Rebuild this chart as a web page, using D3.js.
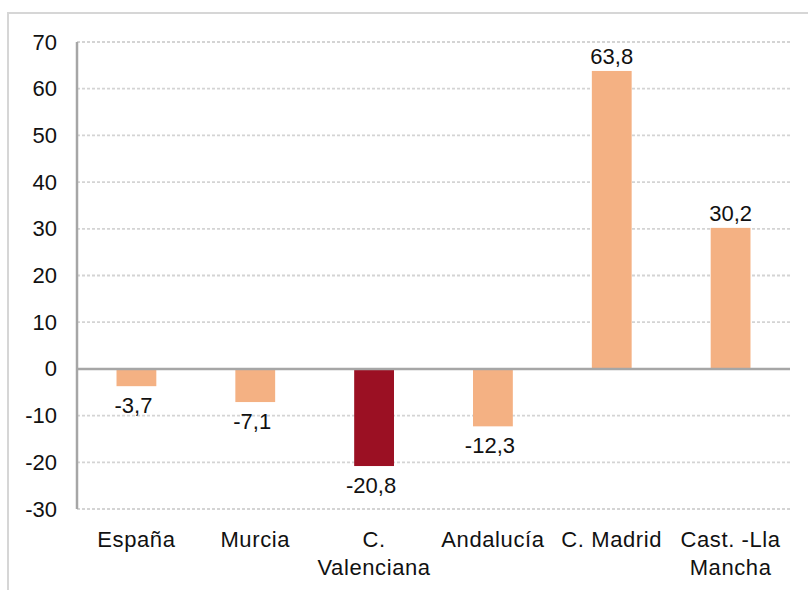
<!DOCTYPE html>
<html>
<head>
<meta charset="utf-8">
<script src="https://cdn.jsdelivr.net/npm/d3@7"></script>
<style>
  body { margin: 0; background: #fff; }
  svg { display: block; font-family: "Liberation Sans", Arial, sans-serif; }
</style>
</head>
<body>
<svg id="chart"></svg>
<script>
const categories = ['España', 'Murcia', 'C. Valenciana', 'Andalucía', 'C. Madrid', 'Cast. -Lla Mancha'];
const categoryLines = [['España'], ['Murcia'], ['C.', 'Valenciana'], ['Andalucía'], ['C. Madrid'], ['Cast. -Lla', 'Mancha']];
const values = [-3.7, -7.1, -20.8, -12.3, 63.8, 30.2];
const highlighted = ['C. Valenciana'];
const yTicks = [-30, -20, -10, 0, 10, 20, 30, 40, 50, 60, 70];

const width = 808, height = 590;
const plot = { left: 77, right: 790, top: 42, bottom: 509 };

const svg = d3.select('#chart')
    .attr('width', width)
    .attr('height', height);

// outer frame
svg.append('rect')
    .attr('x', 8).attr('y', 13)
    .attr('width', 820).attr('height', 600)
    .attr('fill', 'none')
    .attr('stroke', '#d6d6d6')
    .attr('stroke-width', 2);

const x = d3.scaleBand()
    .domain(categories)
    .range([plot.left, plot.right])
    .paddingInner(0.665)
    .paddingOuter(0.3325);

const y = d3.scaleLinear()
    .domain([-30, 70])
    .range([plot.bottom, plot.top]);

// gridlines
svg.append('g')
    .selectAll('line')
    .data(yTicks.filter(t => t !== 0))
    .join('line')
    .attr('x1', plot.left).attr('x2', plot.right)
    .attr('y1', d => y(d)).attr('y2', d => y(d))
    .attr('stroke', '#d4d4d4')
    .attr('stroke-width', 1.8)
    .attr('stroke-dasharray', '3,2');

// y axis labels
const yAxis = d3.axisLeft(y)
    .tickValues(yTicks)
    .tickSize(0)
    .tickPadding(20)
    .tickFormat(d => String(d));

svg.append('g')
    .attr('transform', `translate(${plot.left},0)`)
    .call(yAxis)
    .call(g => g.select('.domain').remove())
    .call(g => g.selectAll('text')
        .attr('font-size', 22)
        .attr('fill', '#111')
        .attr('font-family', '"Liberation Sans", Arial, sans-serif'));

// bars
svg.append('g')
    .selectAll('rect')
    .data(values)
    .join('rect')
    .attr('x', (d, i) => x(categories[i]))
    .attr('width', x.bandwidth())
    .attr('y', d => y(Math.max(0, d)))
    .attr('height', d => Math.abs(y(d) - y(0)))
    .attr('fill', (d, i) => highlighted.includes(categories[i]) ? '#9b1023' : '#f4b183');

// axis lines
svg.append('line')
    .attr('x1', plot.left).attr('x2', plot.left)
    .attr('y1', plot.top).attr('y2', plot.bottom)
    .attr('stroke', '#a6a6a6')
    .attr('stroke-width', 2.5);

svg.append('line')
    .attr('x1', plot.left).attr('x2', plot.right)
    .attr('y1', y(0)).attr('y2', y(0))
    .attr('stroke', '#a6a6a6')
    .attr('stroke-width', 2.5);

// value labels
const fmt = d => d.toFixed(1).replace('.', ',');
svg.append('g')
    .selectAll('text')
    .data(values)
    .join('text')
    .attr('x', (d, i) => x(categories[i]) + x.bandwidth() / 2 - (d < 0 ? 3 : 0))
    .attr('y', d => d >= 0 ? y(d) - 7 : y(d) + 27)
    .attr('text-anchor', 'middle')
    .attr('font-size', 22)
    .attr('fill', '#111')
    .text(fmt);

// category labels
const catG = svg.append('g')
    .selectAll('text')
    .data(categoryLines)
    .join('text')
    .attr('x', (d, i) => x(categories[i]) + x.bandwidth() / 2)
    .attr('y', 547)
    .attr('text-anchor', 'middle')
    .attr('font-size', 22)
    .attr('letter-spacing', 0.6)
    .attr('fill', '#111');

catG.selectAll('tspan')
    .data(d => d)
    .join('tspan')
    .attr('x', function () { return d3.select(this.parentNode).attr('x'); })
    .attr('dy', (d, i) => i === 0 ? 0 : 28)
    .text(d => d);
</script>
</body>
</html>
